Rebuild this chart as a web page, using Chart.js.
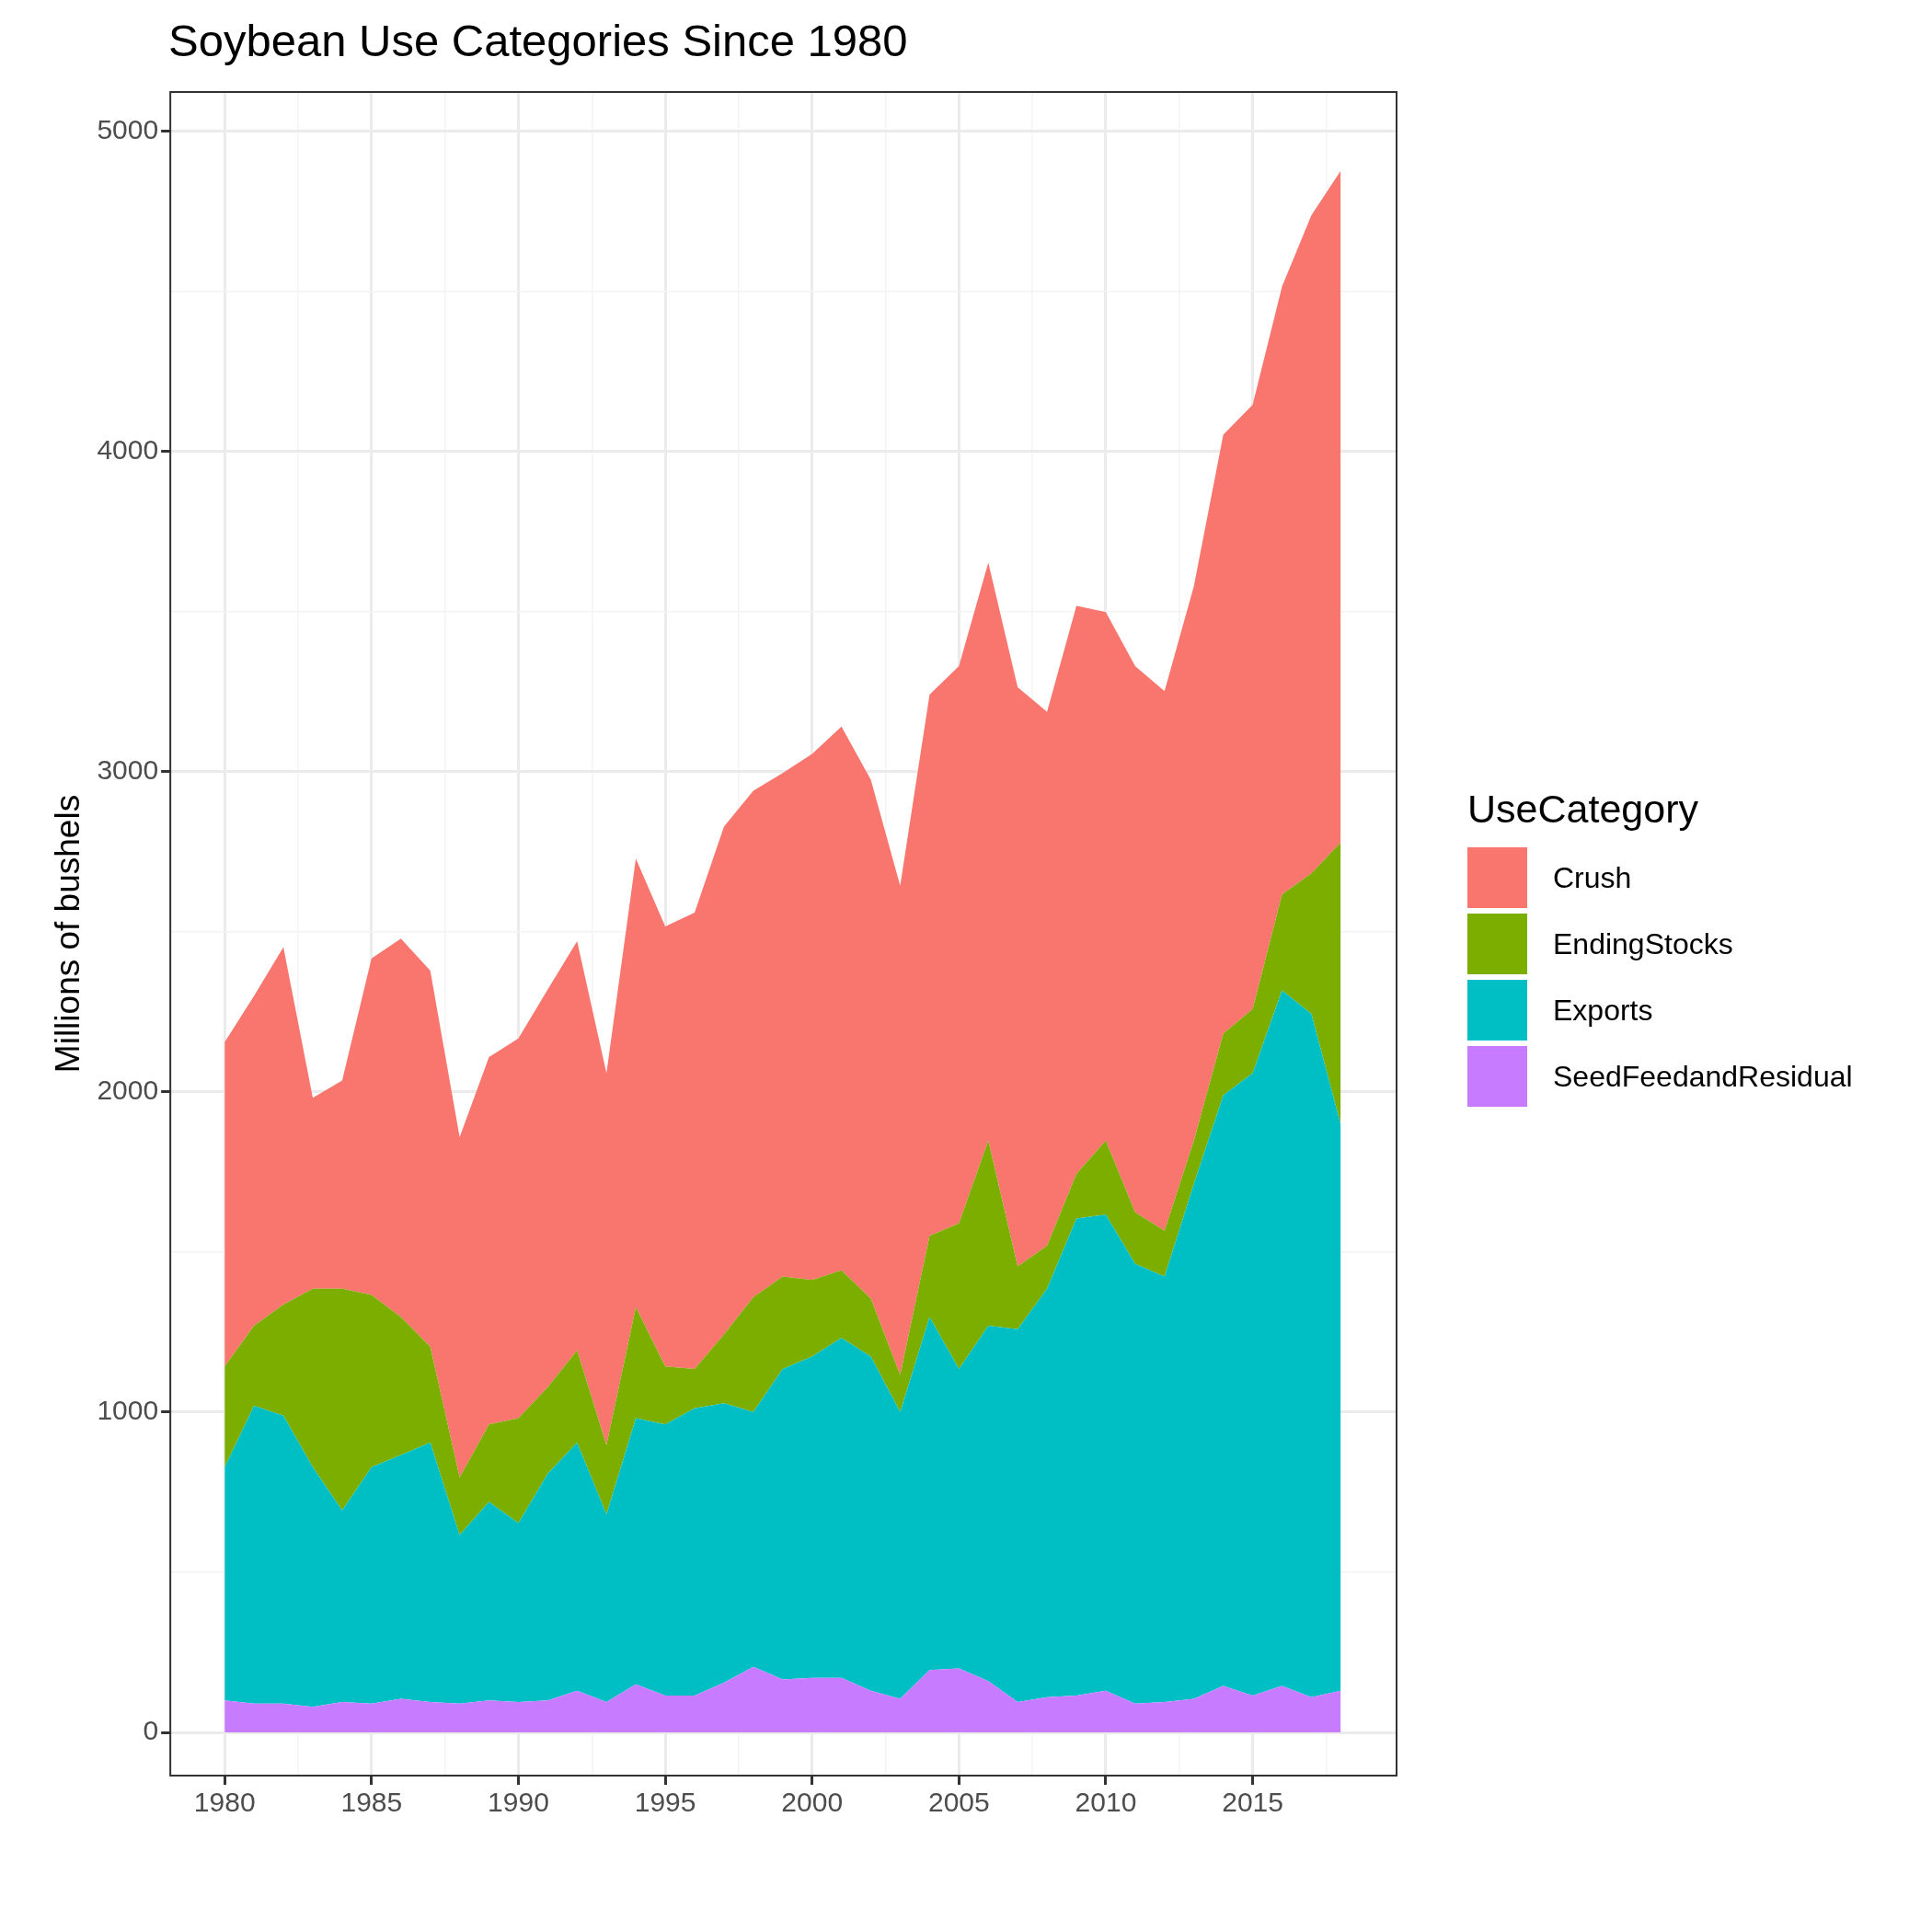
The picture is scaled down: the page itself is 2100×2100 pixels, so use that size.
<!DOCTYPE html>
<html><head><meta charset="utf-8">
<script src="https://cdn.jsdelivr.net/npm/chart.js@4"></script>
<style>
body{margin:0;background:#fff;font-family:Arial,"Liberation Sans",sans-serif;}
#wrap{position:relative;width:2100px;height:2100px;}
#title{position:absolute;left:183px;top:16px;font-size:49px;color:#000;}
#legend{position:absolute;left:1595px;top:855px;}
#legend .t{font-size:43px;margin-bottom:14px;}
#legend .r{display:flex;align-items:center;height:72px;}
#legend .k{width:65px;height:66px;margin-right:28px;}
#legend .l{font-size:32px;}
</style></head>
<body><div id="wrap"><canvas id="c" width="2100" height="2100"></canvas>
<div id="title">Soybean Use Categories Since 1980</div>
<div id="legend"></div></div>
<script>
const years = [];
for (let y = 1980; y <= 2018; y++) years.push(y);
const seedFeed = [100,90,90,80,95,90,105,95,90,100,95,100,130,95,150,115,115,155,205,165,170,170,130,105,195,200,160,95,110,115,130,90,95,105,145,115,145,110,130];
const exportsV = [728,930,899,748,598,738,761,810,526,620,559,708,775,586,831,847,897,873,796,970,1004,1062,1044,896,1102,935,1110,1164,1276,1490,1487,1373,1329,1608,1845,1944,2172,2134,1768];
const endingStocks = [315,250,347,558,693,538,431,300,181,242,327,270,288,216,347,181,123,215,358,289,239,211,181,115,254,455,578,196,134,139,231,161,143,135,192,200,300,439,881];
const crush = [1013,1030,1116,596,650,1051,1182,1174,1062,1147,1186,1242,1278,1162,1401,1374,1425,1586,1582,1572,1643,1698,1620,1528,1690,1740,1805,1809,1667,1774,1651,1706,1685,1732,1871,1887,1898,2055,2098];

const cats = ['Crush','EndingStocks','Exports','SeedFeedandResidual'];
const colors = {Crush:'#F8766D',EndingStocks:'#7CAE00',Exports:'#00BFC4',SeedFeedandResidual:'#C77CFF'};
const series = {SeedFeedandResidual:seedFeed,Exports:exportsV,EndingStocks:endingStocks,Crush:crush};

const order = ['SeedFeedandResidual','Exports','EndingStocks','Crush'];
const datasets = order.map((n, i) => ({
  label: n,
  data: years.map((y, j) => ({x: y, y: series[n][j]})),
  backgroundColor: colors[n],
  borderWidth: 0,
  pointRadius: 0,
  fill: i === 0 ? 'origin' : '-1',
  tension: 0
}));

const frame = {
  id: 'frame',
  afterDraw(chart) {
    const a = chart.chartArea, ctx = chart.ctx;
    ctx.save();
    ctx.strokeStyle = '#333';
    ctx.lineWidth = 2;
    ctx.strokeRect(a.left, a.top, a.right - a.left, a.bottom - a.top);
    ctx.restore();
  }
};

const isMajor = (c, step) => c.tick && Math.abs(c.tick.value % step) < 1e-6;

new Chart(document.getElementById('c'), {
  type: 'line',
  data: {datasets},
  options: {
    responsive: false,
    animation: false,
    layout: {padding: {left: 50, right: 582, top: 100, bottom: 118}},
    plugins: {legend: {display: false}, tooltip: {enabled: false}},
    scales: {
      x: {
        type: 'linear', min: 1978.15, max: 2019.9,
        afterBuildTicks: ax => { const t = []; for (let v = 1977.5; v <= 2020; v += 2.5) if (v >= ax.min && v <= ax.max) t.push({value: v}); ax.ticks = t; },
        ticks: {autoSkip: false, maxRotation: 0, color: '#4d4d4d', font: {size: 30},
          callback: v => (v % 5 === 0 ? String(v) : '')},
        grid: {color: c => (isMajor(c, 5) ? '#ebebeb' : '#f4f4f4'),
          lineWidth: c => (isMajor(c, 5) ? 3 : 1.5), tickLength: 10,
          tickColor: c => (isMajor(c, 5) ? '#333' : 'rgba(0,0,0,0)')},
        border: {display: false}
      },
      y: {
        stacked: true, min: -135, max: 5123,
        afterBuildTicks: ax => { const t = []; for (let v = 0; v <= 5000; v += 500) t.push({value: v}); ax.ticks = t; },
        title: {display: true, text: 'Millions of bushels', font: {size: 37}, color: '#000'},
        ticks: {autoSkip: false, color: '#4d4d4d', font: {size: 30},
          callback: v => (v % 1000 === 0 ? String(v) : '')},
        grid: {color: c => (isMajor(c, 1000) ? '#ebebeb' : '#f4f4f4'),
          lineWidth: c => (isMajor(c, 1000) ? 3 : 1.5), tickLength: 10,
          tickColor: c => (isMajor(c, 1000) ? '#333' : 'rgba(0,0,0,0)')},
        border: {display: false}
      }
    }
  },
  plugins: [frame]
});

const lg = document.getElementById('legend');
lg.innerHTML = '<div class="t">UseCategory</div>' + cats.map(n =>
  '<div class="r"><div class="k" style="background:' + colors[n] + '"></div><div class="l">' + n + '</div></div>').join('');
</script></body></html>
